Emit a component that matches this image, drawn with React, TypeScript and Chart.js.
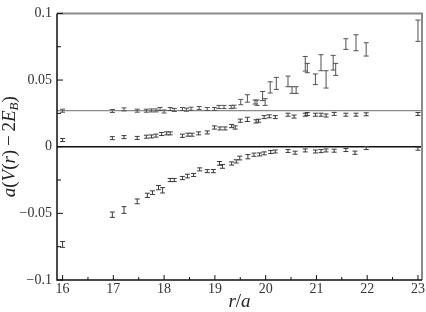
import { useEffect, useRef } from "react";
import { Chart, registerables } from "chart.js";

Chart.register(...registerables);

// Upper branch: separation r/a, value, half-width of the error bar
const rTop = [
  16.0, 16.98, 17.21, 17.47, 17.65, 17.75, 17.84, 17.92, 18.0, 18.12, 18.2, 18.36, 18.44, 18.53,
  18.69, 18.85, 18.99, 19.08, 19.18, 19.32, 19.38, 19.51, 19.64, 19.79, 19.83, 19.94, 19.99,
  20.09, 20.21, 20.44, 20.52, 20.6, 20.78, 20.82, 20.98, 21.09, 21.19, 21.33, 21.38, 21.58,
  21.78, 21.98, 23.0,
];
const vTop = [
  0.027, 0.0268, 0.028, 0.027, 0.027, 0.0272, 0.0272, 0.0283, 0.0264, 0.0283, 0.0276, 0.0283,
  0.0278, 0.0285, 0.029, 0.0283, 0.0283, 0.0298, 0.0298, 0.0298, 0.03, 0.0335, 0.0362, 0.0335,
  0.033, 0.038, 0.0335, 0.0445, 0.0475, 0.049, 0.0425, 0.0425, 0.0622, 0.059, 0.0506, 0.063,
  0.0505, 0.063, 0.058, 0.077, 0.078, 0.073, 0.087,
];
const eTop = [
  0.0008, 0.001, 0.0007, 0.0007, 0.0007, 0.0007, 0.0007, 0.001, 0.0008, 0.0008, 0.0008, 0.0008,
  0.0008, 0.0008, 0.0008, 0.001, 0.001, 0.0012, 0.0012, 0.0012, 0.001, 0.002, 0.0028, 0.0015,
  0.002, 0.0034, 0.0025, 0.0042, 0.0045, 0.004, 0.0025, 0.0025, 0.0055, 0.0035, 0.004, 0.006,
  0.0065, 0.0055, 0.0045, 0.004, 0.006, 0.005, 0.008,
];

// Middle branch
const rMid = [
  16.0, 16.98, 17.21, 17.47, 17.65, 17.75, 17.84, 17.95, 18.05, 18.12, 18.36, 18.47, 18.55,
  18.68, 18.85, 18.99, 19.1, 19.2, 19.33, 19.4, 19.5, 19.64, 19.81, 19.86, 19.97, 20.07, 20.19,
  20.44, 20.56, 20.78, 20.82, 20.98, 21.09, 21.19, 21.35, 21.58, 21.78, 21.98, 23.0,
];
const vMid = [
  0.005, 0.0064, 0.0072, 0.0066, 0.0075, 0.0077, 0.0083, 0.0095, 0.01, 0.01, 0.0082, 0.009,
  0.009, 0.01, 0.0107, 0.0144, 0.0137, 0.0137, 0.0155, 0.0144, 0.0195, 0.0205, 0.019, 0.0195,
  0.0222, 0.0228, 0.0222, 0.024, 0.0226, 0.024, 0.0245, 0.024, 0.024, 0.0234, 0.0246, 0.024,
  0.024, 0.0243, 0.0245,
];
const eMid = [
  0.0006, 0.0006, 0.0006, 0.0007, 0.0007, 0.0007, 0.0007, 0.0008, 0.0008, 0.0008, 0.0012, 0.001,
  0.001, 0.0008, 0.0008, 0.0012, 0.001, 0.001, 0.0012, 0.0012, 0.0012, 0.0016, 0.0012, 0.001,
  0.0008, 0.0008, 0.0008, 0.0008, 0.0008, 0.0008, 0.0008, 0.0008, 0.0008, 0.0008, 0.0008,
  0.0006, 0.0006, 0.0006, 0.0006,
];

// Lower branch
const rLow = [
  16.0, 16.98, 17.21, 17.47, 17.67, 17.77, 17.89, 17.97, 18.12, 18.2, 18.36, 18.46, 18.58, 18.7,
  18.85, 18.97, 19.09, 19.15, 19.33, 19.42, 19.49, 19.65, 19.77, 19.88, 19.97, 20.1, 20.19,
  20.44, 20.58, 20.78, 20.98, 21.09, 21.19, 21.35, 21.58, 21.76, 21.98, 23.0,
];
const vLow = [
  -0.0733, -0.051, -0.0475, -0.041, -0.0365, -0.0345, -0.0307, -0.0327, -0.025, -0.025, -0.0235,
  -0.022, -0.0212, -0.017, -0.0183, -0.0183, -0.0125, -0.0148, -0.0126, -0.011, -0.0085,
  -0.0075, -0.006, -0.0058, -0.005, -0.004, -0.0036, -0.0032, -0.0045, -0.0028, -0.0036,
  -0.0033, -0.0028, -0.003, -0.0025, -0.0045, -0.001, -0.0015,
];
const eLow = [
  0.0022, 0.002, 0.0025, 0.0018, 0.0016, 0.0014, 0.0016, 0.002, 0.0012, 0.0012, 0.0012, 0.0014,
  0.001, 0.001, 0.001, 0.0012, 0.0014, 0.0014, 0.0012, 0.0012, 0.0014, 0.0016, 0.0012, 0.001,
  0.001, 0.0008, 0.0008, 0.0008, 0.0008, 0.0008, 0.0008, 0.001, 0.0008, 0.0008, 0.0008, 0.0012,
  0.0004, 0.0006,
];

// Reference levels drawn as horizontal lines
const plateau = 0.027;
const zeroLevel = 0;

// Axis range and ticks
const xRange = [15.89, 23.08];
const yRange = [-0.1, 0.1];
const xMajor = [16, 17, 18, 19, 20, 21, 22, 23];
const xMinor = [16.5, 17.5, 18.5, 19.5, 20.5, 21.5, 22.5];
const yMajor = [-0.1, -0.05, 0, 0.05, 0.1];
const yMinor = [-0.075, -0.025, 0.025, 0.075];

const SERIF = "'Liberation Serif', 'DejaVu Serif', serif";

const toPoints = (xs: number[], ys: number[]) => xs.map((x, i) => ({ x, y: ys[i] }));

const fmtY = (v: number) =>
  v === 0 ? "0" : (v < 0 ? "\u2212" : "") + String(Math.round(Math.abs(v) * 1000) / 1000);

// Vertical error bars with short caps, placed through the chart scales
const errorBarPlugin = {
  id: "errorBars",
  afterDatasetsDraw(chart: any) {
    const { ctx } = chart;
    const xs = chart.scales.x;
    const ys = chart.scales.y;
    chart.data.datasets.forEach((ds: any) => {
      if (!ds.errors) return;
      ctx.save();
      ctx.strokeStyle = ds.barColor;
      ctx.lineWidth = 1;
      ds.data.forEach((p: any, i: number) => {
        const px = xs.getPixelForValue(p.x);
        const pc = ys.getPixelForValue(p.y);
        let pt = ys.getPixelForValue(p.y + ds.errors[i]);
        let pb = ys.getPixelForValue(p.y - ds.errors[i]);
        if (pb - pt < 3) {
          pt = pc - 1.5;
          pb = pc + 1.5;
        }
        ctx.beginPath();
        ctx.moveTo(px, pt);
        ctx.lineTo(px, pb);
        ctx.moveTo(px - 2.5, pt);
        ctx.lineTo(px + 2.5, pt);
        ctx.moveTo(px - 2.5, pb);
        ctx.lineTo(px + 2.5, pb);
        ctx.stroke();
      });
      ctx.restore();
    });
  },
};

// Frame, inward tick marks and the axis titles
const framePlugin = {
  id: "frame",
  afterDraw(chart: any) {
    const { ctx, chartArea: a } = chart;
    const xs = chart.scales.x;
    const ys = chart.scales.y;
    ctx.save();

    ctx.strokeStyle = "#8a8a8a";
    ctx.lineWidth = 2;
    ctx.beginPath();
    ctx.moveTo(a.left, a.top);
    ctx.lineTo(a.right, a.top);
    ctx.lineTo(a.right, a.bottom);
    ctx.stroke();

    ctx.strokeStyle = "#111";
    ctx.lineWidth = 1.5;
    ctx.beginPath();
    ctx.moveTo(a.left, a.top);
    ctx.lineTo(a.left, a.bottom);
    ctx.lineTo(a.right, a.bottom);
    ctx.stroke();

    ctx.lineWidth = 1;
    ctx.beginPath();
    xMajor.forEach((v) => {
      const p = xs.getPixelForValue(v);
      ctx.moveTo(p, a.bottom);
      ctx.lineTo(p, a.bottom - 5);
    });
    xMinor.forEach((v) => {
      const p = xs.getPixelForValue(v);
      ctx.moveTo(p, a.bottom);
      ctx.lineTo(p, a.bottom - 3);
    });
    yMajor.forEach((v) => {
      const p = ys.getPixelForValue(v);
      ctx.moveTo(a.left, p);
      ctx.lineTo(a.left + 6, p);
    });
    yMinor.forEach((v) => {
      const p = ys.getPixelForValue(v);
      ctx.moveTo(a.left, p);
      ctx.lineTo(a.left + 4, p);
    });
    ctx.stroke();

    ctx.fillStyle = "#222";
    ctx.textBaseline = "middle";
    const drawRuns = (runs: [string, string, number][], cx: number, cy: number) => {
      let total = 0;
      runs.forEach(([t, f]) => {
        ctx.font = f;
        total += ctx.measureText(t).width;
      });
      let x = cx - total / 2;
      ctx.textAlign = "left";
      runs.forEach(([t, f, dy]) => {
        ctx.font = f;
        ctx.fillText(t, x, cy + dy);
        x += ctx.measureText(t).width;
      });
    };
    const it = `italic 19px ${SERIF}`;
    const up = `19px ${SERIF}`;
    const sub = `italic 13px ${SERIF}`;

    // x title
    drawRuns(
      [
        ["r", it, 0],
        ["/", up, 0],
        ["a", it, 0],
      ],
      (a.left + a.right) / 2,
      302
    );

    // y title, rotated
    ctx.save();
    ctx.translate(10, (a.top + a.bottom) / 2);
    ctx.rotate(-Math.PI / 2);
    drawRuns(
      [
        ["a", it, 0],
        ["(", up, 0],
        ["V", it, 0],
        ["(", up, 0],
        ["r", it, 0],
        [")\u2009\u2212\u20092", up, 0],
        ["E", it, 0],
        ["B", sub, 5],
        [")", up, 0],
      ],
      0,
      0
    );
    ctx.restore();

    ctx.restore();
  },
};

export default function App() {
  const ref = useRef<HTMLCanvasElement | null>(null);

  useEffect(() => {
    document.body.style.margin = "0";
    const canvas = ref.current;
    if (!canvas) return;
    const tickFont = { family: SERIF, size: 14 };
    const chart = new Chart(canvas, {
      type: "scatter",
      data: {
        datasets: [
          {
            type: "line",
            data: [
              { x: xRange[0], y: zeroLevel },
              { x: xRange[1], y: zeroLevel },
            ],
            borderColor: "#111",
            borderWidth: 1.4,
            pointRadius: 0,
          },
          {
            type: "line",
            data: [
              { x: xRange[0], y: plateau },
              { x: xRange[1], y: plateau },
            ],
            borderColor: "#8a8a8a",
            borderWidth: 1.3,
            pointRadius: 0,
          },
          {
            data: toPoints(rTop, vTop),
            errors: eTop,
            barColor: "#505050",
            pointRadius: 0,
          },
          {
            data: toPoints(rMid, vMid),
            errors: eMid,
            barColor: "#3a3a3a",
            pointRadius: 0,
          },
          {
            data: toPoints(rLow, vLow),
            errors: eLow,
            barColor: "#3a3a3a",
            pointRadius: 0,
          },
        ] as any,
      },
      options: {
        animation: false,
        responsive: false,
        devicePixelRatio: 1,
        layout: { padding: { left: 0, right: 3.5, top: 5.5, bottom: 0 } },
        plugins: {
          legend: { display: false },
          tooltip: { enabled: false },
        },
        scales: {
          x: {
            type: "linear",
            min: xRange[0],
            max: xRange[1],
            grid: { display: false, drawTicks: false },
            border: { display: false },
            afterBuildTicks: (s: any) => {
              s.ticks = xMajor.map((v) => ({ value: v }));
            },
            afterFit: (s: any) => {
              s.height = 32;
            },
            ticks: {
              font: tickFont,
              color: "#333",
              padding: 1,
              maxRotation: 0,
              callback: (v: any) => String(v),
            },
          },
          y: {
            type: "linear",
            min: yRange[0],
            max: yRange[1],
            grid: { display: false, drawTicks: false },
            border: { display: false },
            afterBuildTicks: (s: any) => {
              s.ticks = yMajor.map((v) => ({ value: v }));
            },
            afterFit: (s: any) => {
              s.width = 57;
            },
            ticks: {
              font: tickFont,
              color: "#333",
              padding: 5,
              callback: (v: any) => fmtY(Number(v)),
            },
          },
        },
      } as any,
      plugins: [errorBarPlugin, framePlugin],
    });
    return () => chart.destroy();
  }, []);

  return (
    <div style={{ width: 426, height: 312 }}>
      <canvas ref={ref} width={426} height={312} style={{ display: "block", width: 426, height: 312 }} />
    </div>
  );
}
